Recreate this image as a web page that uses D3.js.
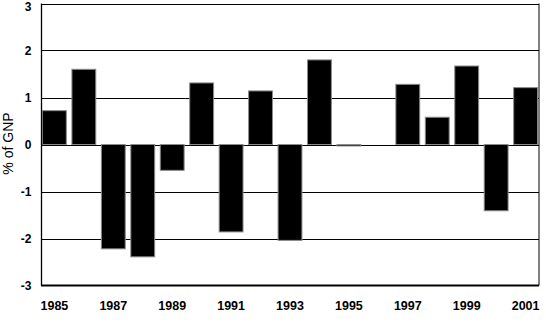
<!DOCTYPE html>
<html>
<head>
<meta charset="utf-8">
<script src="https://cdn.jsdelivr.net/npm/d3@7"></script>
<style>
  body { margin: 0; background: #fff; }
  svg text { font-family: Arial, "Liberation Sans", sans-serif; }
</style>
</head>
<body>
<script>
// balance, % of GNP, one bar per year
const years = [1985, 1986, 1987, 1988, 1989, 1990, 1991, 1992, 1993,
               1994, 1995, 1996, 1997, 1998, 1999, 2000, 2001];
const values = [0.72, 1.60, -2.22, -2.39, -0.55, 1.31, -1.86, 1.14, -2.04,
                1.80, -0.03, 0, 1.28, 0.58, 1.67, -1.41, 1.21];
const yTicks = [-3, -2, -1, 0, 1, 2, 3];
const xLabels = [1985, 1987, 1989, 1991, 1993, 1995, 1997, 1999, 2001];

const width = 546, height = 324;
const margin = {top: 3.5, right: 7, bottom: 38.5, left: 41};

const svg = d3.select("body").append("svg")
  .attr("width", width)
  .attr("height", height);

const x = d3.scaleBand()
  .domain(years)
  .range([margin.left, width - margin.right])
  .paddingInner(0.19)
  .paddingOuter(0.05);

const y = d3.scaleLinear()
  .domain([-3, 3])
  .range([height - margin.bottom, margin.top]);

// gridlines
svg.append("g")
  .selectAll("line")
  .data(yTicks.filter(d => d > -3))
  .join("line")
  .attr("x1", margin.left)
  .attr("x2", width - margin.right)
  .attr("y1", d => Math.round(y(d)) + 0.5)
  .attr("y2", d => Math.round(y(d)) + 0.5)
  .attr("stroke", "#000")
  .attr("stroke-width", 1.2);

// bars
svg.append("g")
  .selectAll("rect")
  .data(years.map((yr, i) => ({yr, v: values[i]})).filter(d => d.v !== 0))
  .join("rect")
  .attr("x", d => x(d.yr))
  .attr("width", x.bandwidth())
  .attr("y", d => y(Math.max(0, d.v)))
  .attr("height", d => Math.max(1.5, Math.abs(y(d.v) - y(0))))
  .attr("fill", "#000")
  .attr("stroke", "#8a8a8a")
  .attr("stroke-width", 1);

// frame
svg.append("line")
  .attr("x1", margin.left + 0.5).attr("x2", margin.left + 0.5)
  .attr("y1", y(3)).attr("y2", y(-3))
  .attr("stroke", "#000").attr("stroke-width", 1.3);
svg.append("line")
  .attr("x1", width - margin.right).attr("x2", width - margin.right)
  .attr("y1", y(3)).attr("y2", y(-3))
  .attr("stroke", "#000").attr("stroke-width", 1);
svg.append("line")
  .attr("x1", margin.left).attr("x2", width - margin.right)
  .attr("y1", y(-3)).attr("y2", y(-3))
  .attr("stroke", "#000").attr("stroke-width", 2.2);

// y tick labels
svg.append("g")
  .selectAll("text")
  .data(yTicks)
  .join("text")
  .attr("x", 31.5)
  .attr("y", d => Math.max(y(d), 7))
  .attr("dy", "0.36em")
  .attr("text-anchor", "end")
  .attr("font-size", 12)
  .attr("font-weight", "bold")
  .text(d => d);

// x labels
svg.append("g")
  .selectAll("text")
  .data(xLabels)
  .join("text")
  .attr("x", d => x(d) + x.bandwidth() / 2)
  .attr("y", 310)
  .attr("text-anchor", "middle")
  .attr("font-size", 12.5)
  .attr("font-weight", "bold")
  .text(d => d);

// axis title
svg.append("text")
  .attr("transform", `translate(12.5,${y(0) - 1}) rotate(-90)`)
  .attr("text-anchor", "middle")
  .attr("font-size", 14)
  .text("% of GNP");
</script>
</body>
</html>
